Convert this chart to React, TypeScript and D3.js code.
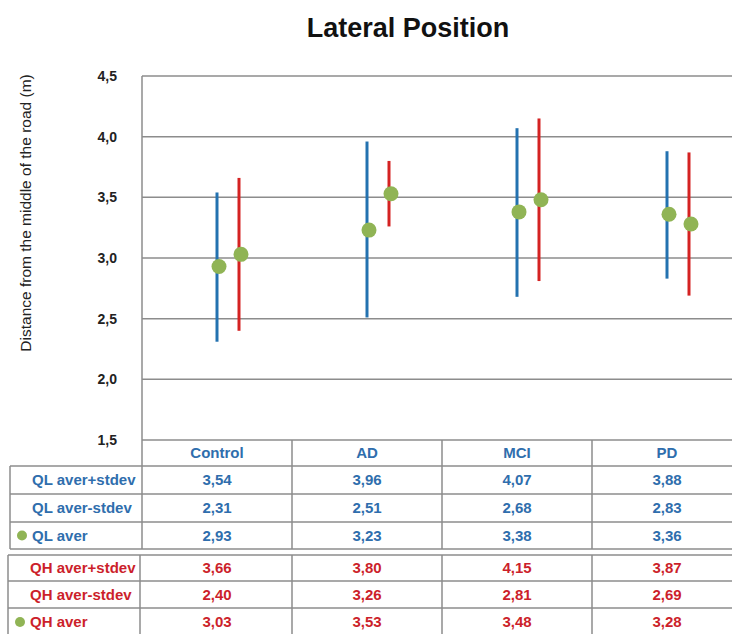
import * as d3 from 'd3';
import React, { useEffect, useRef } from 'react';

const categories = ['Control', 'AD', 'MCI', 'PD'];
const qlHigh = [3.54, 3.96, 4.07, 3.88];
const qlLow = [2.31, 2.51, 2.68, 2.83];
const qlAver = [2.93, 3.23, 3.38, 3.36];
const qhHigh = [3.66, 3.8, 4.15, 3.87];
const qhLow = [2.4, 3.26, 2.81, 2.69];
const qhAver = [3.03, 3.53, 3.48, 3.28];
const yTicks = [1.5, 2.0, 2.5, 3.0, 3.5, 4.0, 4.5];

const BLUE = '#2472b0';
const RED = '#d42222';
const GREEN = '#90b455';
const TXT_BLUE = '#2f6ead';
const TXT_RED = '#cc1f2b';
const GRID = '#8c8c8c';
const FONT = '"Liberation Sans Narrow", "Arial Narrow", "Liberation Sans", Arial, sans-serif';

const App = () => {
  const ref = useRef<SVGSVGElement>(null);

  useEffect(() => {
    const width = 732;
    const height = 634;
    const svg = d3.select(ref.current).attr('width', width).attr('height', height);
    svg.selectAll('*').remove();

    const x = d3.scaleBand<string>().domain(categories).range([142, 742]);
    const y = d3.scaleLinear().domain([1.5, 4.5]).range([440, 76]);
    const fmt = (v: number) => d3.format('.2f')(v).replace('.', ',');

    svg
      .append('text')
      .text('Lateral Position')
      .attr('x', 408)
      .attr('y', 37)
      .attr('text-anchor', 'middle')
      .attr('font-family', FONT)
      .attr('font-weight', 'bold')
      .attr('font-size', 27)
      .attr('fill', '#111');

    svg
      .append('text')
      .text('Distance from the middle of the road (m)')
      .attr('transform', 'translate(31, 213) rotate(-90)')
      .attr('text-anchor', 'middle')
      .attr('font-family', '"Liberation Sans", Arial, sans-serif')
      .attr('font-size', 15.5)
      .attr('fill', '#222');

    // gridlines
    svg
      .append('g')
      .selectAll('line')
      .data(yTicks)
      .enter()
      .append('line')
      .attr('x1', 142)
      .attr('x2', width)
      .attr('y1', (d) => y(d))
      .attr('y2', (d) => y(d))
      .attr('stroke', GRID)
      .attr('stroke-width', 1.5);

    svg
      .append('g')
      .selectAll('text')
      .data(yTicks)
      .enter()
      .append('text')
      .text((d) => d3.format('.1f')(d).replace('.', ','))
      .attr('x', 117)
      .attr('y', (d) => y(d) + 5)
      .attr('text-anchor', 'end')
      .attr('font-family', FONT)
      .attr('font-weight', 'bold')
      .attr('font-size', 14)
      .attr('fill', '#222');

    // left axis border
    svg
      .append('line')
      .attr('x1', 142)
      .attr('x2', 142)
      .attr('y1', y(4.5))
      .attr('y2', 466)
      .attr('stroke', GRID)
      .attr('stroke-width', 1.5);

    const band = x.bandwidth();
    const cx = (c: string) => (x(c) as number) + band / 2;
    const off = 22;

    const series = [
      { hi: qlHigh, lo: qlLow, av: qlAver, color: BLUE, dx: 0 },
      { hi: qhHigh, lo: qhLow, av: qhAver, color: RED, dx: off }
    ];

    series.forEach((s) => {
      svg
        .append('g')
        .selectAll('line')
        .data(categories)
        .enter()
        .append('line')
        .attr('x1', (c) => cx(c) + s.dx)
        .attr('x2', (c) => cx(c) + s.dx)
        .attr('y1', (c, i) => y(s.hi[i]))
        .attr('y2', (c, i) => y(s.lo[i]))
        .attr('stroke', s.color)
        .attr('stroke-width', 3);
    });
    series.forEach((s) => {
      svg
        .append('g')
        .selectAll('circle')
        .data(categories)
        .enter()
        .append('circle')
        .attr('cx', (c) => cx(c) + s.dx + 2)
        .attr('cy', (c, i) => y(s.av[i]))
        .attr('r', 7.5)
        .attr('fill', GREEN);
    });

    // data table
    const table = svg.append('g');
    const line = (x1: number, y1: number, x2: number, y2: number) =>
      table
        .append('line')
        .attr('x1', x1)
        .attr('y1', y1)
        .attr('x2', x2)
        .attr('y2', y2)
        .attr('stroke', GRID)
        .attr('stroke-width', 1.5);

    // header
    categories.forEach((c) => {
      table
        .append('text')
        .text(c)
        .attr('x', cx(c))
        .attr('y', 458)
        .attr('text-anchor', 'middle')
        .attr('font-family', FONT)
        .attr('font-weight', 'bold')
        .attr('font-size', 15)
        .attr('fill', TXT_BLUE);
    });
    categories.slice(1).forEach((c) => line(x(c) as number, 440, x(c) as number, 466));

    const blocks = [
      {
        left: 10,
        sep: 142,
        rows: [466, 494, 522, 549],
        color: TXT_BLUE,
        labels: ['QL aver+stdev', 'QL aver-stdev', 'QL aver'],
        values: [qlHigh, qlLow, qlAver]
      },
      {
        left: 8,
        sep: 140,
        rows: [555, 581, 608, 636],
        color: TXT_RED,
        labels: ['QH aver+stdev', 'QH aver-stdev', 'QH aver'],
        values: [qhHigh, qhLow, qhAver]
      }
    ];

    blocks.forEach((b) => {
      b.rows.forEach((ry) => line(b.left, ry, width, ry));
      line(b.left, b.rows[0], b.left, b.rows[3]);
      line(b.sep, b.rows[0], b.sep, b.rows[3]);
      categories.slice(1).forEach((c) =>
        line(x(c) as number, b.rows[0], x(c) as number, b.rows[3])
      );
      b.labels.forEach((lab, r) => {
        const mid = (b.rows[r] + b.rows[r + 1]) / 2;
        table
          .append('text')
          .text(lab)
          .attr('x', b.left + 22)
          .attr('y', mid + 5)
          .attr('text-anchor', 'start')
          .attr('font-family', FONT)
          .attr('font-weight', 'bold')
          .attr('font-size', 15)
          .attr('fill', b.color);
        if (r === 2) {
          table
            .append('circle')
            .attr('cx', b.left + 12)
            .attr('cy', mid)
            .attr('r', 5)
            .attr('fill', GREEN);
        }
        categories.forEach((c, i) => {
          table
            .append('text')
            .text(fmt(b.values[r][i]))
            .attr('x', cx(c))
            .attr('y', mid + 5)
            .attr('text-anchor', 'middle')
            .attr('font-family', FONT)
            .attr('font-weight', 'bold')
            .attr('font-size', 15)
            .attr('fill', b.color);
        });
      });
    });
  }, []);

  return (
    <svg
      ref={ref}
      style={{ position: 'absolute', left: 0, top: 0, background: '#fff' }}
    />
  );
};

export default App;
